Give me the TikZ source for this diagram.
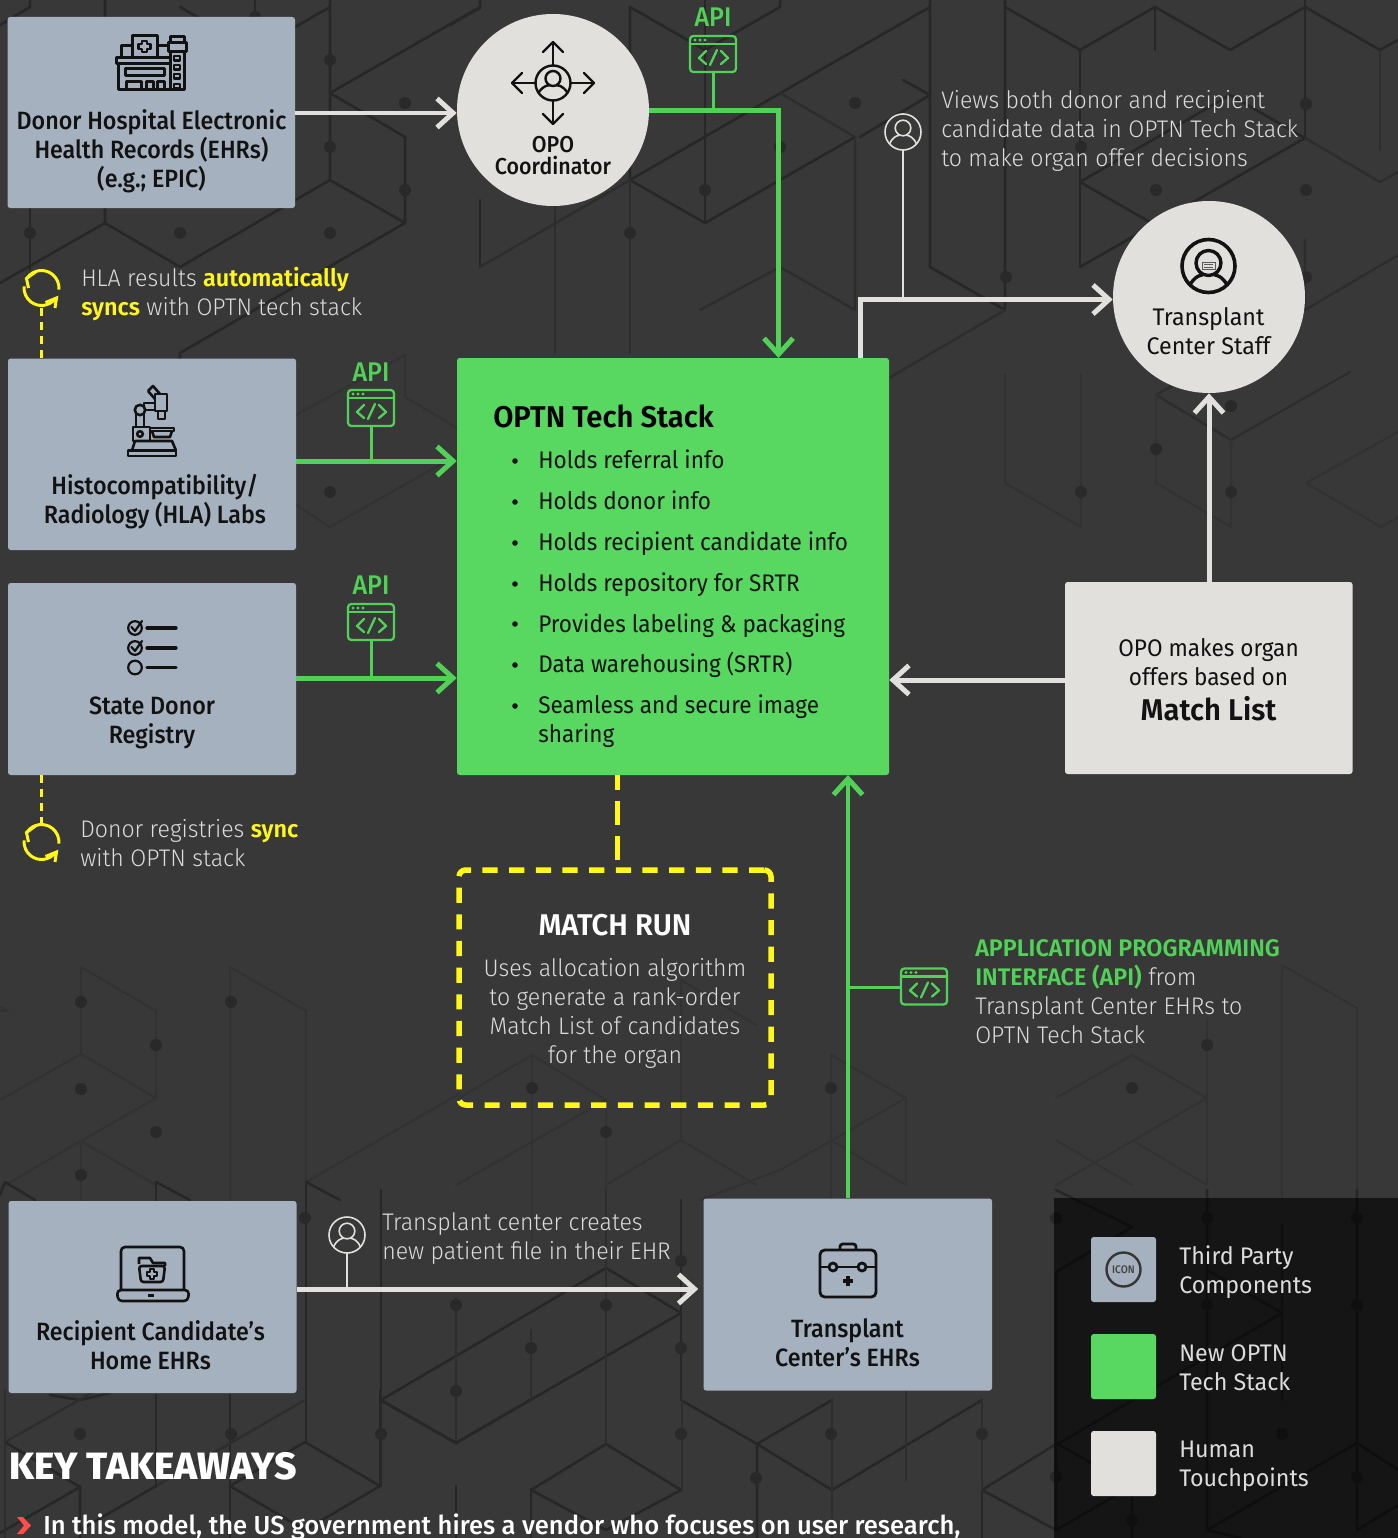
\documentclass[tikz,border=0pt]{standalone}
\usepackage{fontspec}
\usetikzlibrary{arrows.meta,calc}
\setmainfont{Fira Sans}[FakeStretch=0.94,BoldFont={Fira Sans SemiBold},BoldFeatures={FakeStretch=0.975}]
\newfontfamily\lt{Fira Sans Light}[FakeStretch=0.962,BoldFont={Fira Sans SemiBold},BoldFeatures={FakeStretch=0.975}]
\newfontfamily\md{Fira Sans Medium}[FakeStretch=0.93]
\newfontfamily\mdw{Fira Sans Medium}[FakeStretch=0.985]
\newfontfamily\lgd{Fira Sans}[FakeStretch=0.97]
\newfontfamily\hv{Fira Sans}[BoldFont={Fira Sans ExtraBold},BoldFeatures={FakeStretch=1.02}]
\definecolor{bgc}{HTML}{383838}
\definecolor{lnS}{HTML}{272727}
\definecolor{lnM}{HTML}{2D2D2D}
\definecolor{lnF}{HTML}{323232}
\definecolor{dotc}{HTML}{292929}
\definecolor{gray3}{HTML}{A5B1BE}
\definecolor{grn}{HTML}{58D860}
\definecolor{grn2}{HTML}{52D158}
\definecolor{wht}{HTML}{E1E0DC}
\definecolor{ylw}{HTML}{FFF71A}
\definecolor{ink}{HTML}{121212}
\definecolor{ltx}{HTML}{DCDCDC}
\newcommand{\Fs}[2]{\fontsize{\dimexpr #1pt*3/4\relax}{\dimexpr #2pt*3/4\relax}\selectfont}
\tikzset{
  x=.75pt,y=-.75pt,
  pxw/.style={line width=#1*.75pt},
  bgS/.style={draw=lnS,pxw=2.6,line cap=round,line join=round},
  bgM/.style={draw=lnM,pxw=2.4,line cap=round,line join=round},
  bgF/.style={draw=lnF,pxw=2.2,line cap=round,line join=round},
  thirdbox/.style={fill=gray3,rounded corners=2pt,draw=none,inner sep=0,minimum width=288*.75pt,minimum height=192*.75pt},
  humanbox/.style={fill=wht,rounded corners=2pt,draw=none,inner sep=0},
  humancirc/.style={circle,fill=wht,draw=none,inner sep=0,minimum size=192*.75pt},
  techbox/.style={fill=grn,rounded corners=2pt,draw=none,inner sep=0},
  lbl/.style={inner sep=0,align=center,text=ink},
  note/.style={inner sep=0,align=left,text=ltx,anchor=west},
  bul/.style={inner sep=0,anchor=base west,text=ink,font={\Fs{24}{29}}},
  wline/.style={draw=wht,pxw=#1,line join=miter},
  gline/.style={draw=grn2,pxw=#1,line join=miter},
  wtip/.style={-{Straight Barb[length=16*.75pt,width=29*.75pt,line width=5*.75pt]}},
  gtip/.style={-{Straight Barb[length=16*.75pt,width=29*.75pt,line width=5*.75pt]}},
  ylwdash/.style={draw=ylw,pxw=3,dash pattern=on 6pt off 4.5pt},
  ic/.style={draw=ink,pxw=3,line join=round,fill=none},
  icthin/.style={draw=ink,pxw=2.4,line join=round,line cap=round,fill=none},
  sync/.style={draw=ylw,pxw=3,line cap=butt,line join=miter},
  apic/.style={draw=grn2,pxw=2.3,line join=round,line cap=round},
  usr/.style={draw=wht,pxw=1.6,fill=none},
}
\newcommand{\apiicon}[2]{\begin{scope}[shift={(#1,#2)}]
  \draw[apic,rounded corners=2.5pt] (0,0) rectangle (46,36);
  \draw[apic] (0,8) -- (46,8);
  \foreach \q in {5,10,15} \fill[grn2] (\q,4) circle[radius=1.6];
  \draw[apic] (16,15) -- (9,22) -- (16,28);
  \draw[apic] (27,14) -- (20,29);
  \draw[apic] (31,15) -- (38,22) -- (31,28);
\end{scope}}
\newcommand{\usericon}[2]{\begin{scope}[shift={(#1,#2)}]
  \draw[usr] (0,0) circle[radius=18];
  \draw[usr] (0,-4) circle[radius=7.8];
  \draw[usr] (-13.5,12) .. controls (-10,4) and (-5,3.5) .. (-4,3.5);
  \draw[usr] (13.5,12) .. controls (10,4) and (5,3.5) .. (4,3.5);
\end{scope}}
\newcommand{\syncicon}[2]{\begin{scope}[shift={(#1,#2)}]
  \draw[sync] (-14,-10.5) arc[start angle=217,end angle=365,radius=17.5];
  \draw[sync] (14,10.5) arc[start angle=37,end angle=185,radius=17.5];
  \draw[sync] (-6,-16) -- (-15,-9.5) -- (-13,0);
  \draw[sync] (4,14.5) -- (15,10) -- (13.5,20);
\end{scope}}
\begin{document}
\begin{tikzpicture}
\useasboundingbox (0,0) rectangle (1398,1538);
\clip (0,0) rectangle (1398,1538);
\fill[bgc] (0,0) rectangle (1398,1538);
% ---------- background pattern, top
\draw[bgS] (0,25)--(30,7)--(30,0);
\draw[bgS] (105,0)--(105,223)--(180,267)--(330,180)--(330,0);
\draw[bgS] (105,223)--(0,283);
\draw[bgS] (30,205)--(30,270);
\draw[bgS] (330,93)--(405,137)--(405,223)--(330,180);
\draw[bgS] (405,223)--(180,353)--(180,400);
\draw[bgS] (330,93)--(480,7);
\draw[bgS] (180,7)--(255,50)--(330,7);
\draw[bgS] (255,0)--(255,50);
\draw[bgS] (330,0)--(330,7);
\draw[bgS] (630,180)--(630,7)--(705,50)--(780,7)--(780,0);
\draw[bgS] (630,180)--(855,50);
\draw[bgS] (630,180)--(705,223)--(855,137);
\draw[bgS] (705,0)--(705,223);
\draw[bgS] (480,0)--(480,8)--(450,25);
\draw[bgS] (480,200)--(480,267);
\draw[bgM] (480,267)--(630,180);
\draw[bgM] (780,93)--(855,137)--(855,310);
\draw[bgS] (930,0)--(930,267)--(1005,310)--(1005,0);
\draw[bgS] (903,80)--(930,95)--(860,137);
\draw[bgS] (1005,7)--(1080,50)--(1155,7)--(1230,50)--(1305,7)--(1380,50)--(1398,40);
\draw[bgS] (855,50)--(930,7);
\draw[bgS] (1080,50)--(1080,267);
\draw[bgS] (1155,50)--(1155,7);
\draw[bgS] (1080,182)--(1155,225);
\draw[bgS] (1080,182)--(1230,95)--(1305,138)--(1080,267);
\draw[bgS] (1305,0)--(1305,138);
\draw[bgM] (1305,138)--(1380,182)--(1398,172);
\draw[bgM] (1305,240)--(1305,310)--(1398,255);
\draw[bgM] (1380,50)--(1380,150);
\draw[bgM] (555,205)--(555,353);
\draw[bgM] (630,180)--(630,353);
\draw[bgM] (700,310)--(780,267)--(855,310);
\draw[bgM] (1005,310)--(860,395);
\draw[bgF] (296,505)--(330,527)--(457,455);
\draw[bgF] (405,355)--(405,397)--(457,428);
\draw[bgF] (296,415)--(405,355);
\draw[bgM] (1156,395)--(1231,440)--(1350,372);
\draw[bgM] (1156,395)--(1195,373);
\draw[bgF] (1156,395)--(1156,483)--(1231,527)--(1231,440);
\draw[bgF] (1005,375)--(1005,483)--(1081,527)--(1081,375);
\draw[bgF] (1398,432)--(1306,483)--(1381,527)--(1398,517);
% ---------- background pattern, lower
\draw[bgF] (81,967)--(156,1011)--(156,1098);
\draw[bgF] (81,967)--(81,1054)--(156,1098)--(81,1141)--(0,1188);
\draw[bgF] (81,1054)--(0,1100);
\draw[bgF] (81,1141)--(81,1200);
\draw[bgF] (81,1141)--(156,1185);
\draw[bgF] (230,967)--(306,1011)--(306,1182);
\draw[bgF] (230,967)--(230,1200);
\draw[bgF] (306,1182)--(459,1094);
\draw[bgF] (0,1011)--(8,1011)--(0,1007);
\draw[bgS] (0,1195)--(5,1182)--(35,1200);
\draw[bgS] (156,1182)--(156,1200);
\draw[bgS] (156,1182)--(190,1200);
\draw[bgS] (306,1182)--(306,1442);
\draw[bgS] (306,1182)--(340,1200);
\draw[bgF] (532,1055)--(606,1100)--(456,1185);
\draw[bgF] (532,1055)--(459,1098);
\draw[bgF] (532,1055)--(532,1240);
\draw[bgF] (606,1100)--(606,1200);
\draw[bgF] (831,1055)--(906,1098)--(906,1185);
\draw[bgF] (831,1055)--(831,1200);
\draw[bgF] (906,1098)--(780,1170)--(700,1200);
\draw[bgF] (831,1140)--(906,1185);
\draw[bgF] (681,980)--(681,1140)--(756,1185);
\draw[bgF] (681,980)--(756,1025);
\draw[bgF] (681,1140)--(606,1185);
\draw[bgF] (1132,1055)--(1207,1098)--(1056,1185);
\draw[bgF] (1132,1055)--(1056,1098);
\draw[bgF] (1056,1140)--(1132,1185);
\draw[bgF] (1132,1140)--(1207,1185);
\draw[bgF] (1207,1020)--(1207,1185);
\draw[bgF] (1282,965)--(1357,1008)--(1357,1200);
\draw[bgF] (1282,965)--(1282,1200);
\draw[bgS] (606,1268)--(381,1400);
\draw[bgS] (606,1268)--(681,1313)--(456,1443)--(381,1400);
\draw[bgS] (381,1190)--(381,1486);
\draw[bgM] (456,1298)--(456,1443);
\draw[bgM] (606,1190)--(606,1443);
\draw[bgM] (531,1330)--(531,1400);
\draw[bgS] (681,1200)--(681,1400);
\draw[bgS] (606,1444)--(531,1490)--(606,1530)--(681,1490)--(606,1444);
\draw[bgS] (531,1490)--(531,1538);
\draw[bgS] (681,1400)--(757,1444)--(832,1490)--(982,1400);
\draw[bgS] (832,1400)--(757,1444)--(757,1538);
\draw[bgM] (682,1400)--(682,1490);
\draw[bgM] (832,1400)--(832,1538);
\draw[bgM] (906,1380)--(906,1480);
\draw[bgS] (982,1490)--(1056,1444);
\draw[bgS] (982,1490)--(1056,1530);
\draw[bgS] (982,1490)--(982,1538);
\draw[bgM] (982,1400)--(982,1490);
\draw[bgS] (156,1395)--(156,1486);
\draw[bgS] (230,1395)--(230,1486);
\draw[bgS] (50,1395)--(80,1400)--(110,1393);
\draw[bgS] (5,1442)--(80,1487)--(80,1538);
\draw[bgS] (80,1487)--(0,1533);
\draw[bgM] (5,1442)--(155,1357);
\draw[bgM] (5,1390)--(5,1538);
\draw[bgS] (305,1442)--(380,1486)--(305,1530)--(230,1486)--(305,1442);
\draw[bgS] (230,1486)--(230,1538);
\draw[bgS] (380,1390)--(380,1486);
\draw[bgS] (380,1400)--(456,1443);
\draw[bgS] (456,1443)--(530,1400);
\draw[bgM] (156,1486)--(305,1400);
\draw[bgS] (156,1486)--(80,1530);
\draw[bgS] (456,1486)--(456,1538);
\draw[bgS] (1132,1227)--(1056,1190);
\draw[bgS] (1132,1227)--(1056,1272)--(1056,1530);
\draw[bgS] (1207,1190)--(1207,1530)--(1357,1443)--(1398,1470);
\draw[bgS] (1207,1270)--(1282,1313)--(1056,1445);
\draw[bgS] (1282,1225)--(1282,1400);
\draw[bgS] (1357,1190)--(1357,1530)--(1398,1505);
\draw[bgS] (1056,1443)--(1132,1486)--(1132,1538);
\draw[bgS] (1056,1530)--(1132,1486);
\draw[bgS] (1207,1530)--(1240,1538);
% dots
\foreach \a/\b in {30/233,180/233,330/233,330/147,405/190,405/103,330/60,255/17,705/190,780/147,630/233,855/103,1006/277,1081/147,1156/190,1306/190,1306/104,1306/277,1231/406,1156/449,1081/492,1231/492,330/492,81/1002,81/1089,156/1045,156/1132,231/1002,81/1175,532/1088,606/1132,831/1088,1132/1088,1207/1045,305/1218,681/1261,456/1305,606/1305,531/1348,681/1348,456/1391,80/1434,381/1434,681/1434,831/1434,982/1434,756/1478,231/1434,1056/1218,1207/1218,1357/1218,1207/1305,1357/1305,1282/1434,1056/1477,1357/1477,1132/1520}
  \fill[dotc] (\a,\b) circle[radius=6];
% ---------- legend panel
\fill[black,opacity=.62] (1054,1198) rectangle (1398,1538);
% ---------- nodes
\node[thirdbox,minimum width=287.5*.75pt,minimum height=191*.75pt] (hosp) at (151.25,112.5) {};
\node[thirdbox,minimum height=191.5*.75pt] (hla) at (152,454.25) {};
\node[thirdbox] (state) at (152,679) {};
\node[thirdbox] (rec) at (152.5,1297) {};
\node[thirdbox,minimum width=288.5*.75pt] (tcehr) at (847.75,1294.5) {};
\node[humanbox,minimum width=287.5*.75pt,minimum height=192*.75pt] (mlist) at (1208.75,678) {};
\node[humancirc] (opo) at (553,110) {};
\node[humancirc] (staff) at (1209,297) {};
\node[techbox,minimum width=432*.75pt,minimum height=417*.75pt] (tech) at (673,566.5) {};
% labels
\node[lbl,font={\md\Fs{25}{29}}] (t1) at (151.5,151) {Donor Hospital Electronic\\Health Records (EHRs)\\(e.g.; EPIC)};
\node[lbl,font={\md\Fs{25}{29}}] (t2) at (155,502) {Histocompatibility/\\Radiology (HLA) Labs};
\node[lbl,font={\md\Fs{25}{29}}] (t3) at (152,723) {State Donor\\Registry};
\node[lbl,font={\md\Fs{25}{29}}] (t4) at (150.5,1345.5) {Recipient Candidate’s\\Home EHRs};
\node[lbl,font={\md\Fs{25}{29}}] (t5) at (847.5,1342.5) {Transplant\\Center’s EHRs};
\node[lbl,font={\md\Fs{23}{22}}] (t6) at (553,156) {OPO\\Coordinator};
\node[lbl,font={\lgd\Fs{24}{29}}] (t7) at (1208.5,331) {Transplant\\Center Staff};
\node[lbl,font={\Fs{24}{29}}] (t8) at (1208.5,662) {OPO makes organ\\offers based on};
\node[lbl,font={\bfseries\Fs{30}{32}}] (t9) at (1208.5,709) {Match List};
\node[note,font={\lt\Fs{24}{29}}] (n1) at (941,131) {Views both donor and recipient\\candidate data in OPTN Tech Stack\\to make organ offer decisions};
\node[note,font={\lt\Fs{24}{29}}] (n2) at (81,294.5) {HLA results {\color{ylw}\bfseries automatically}\\{\color{ylw}\bfseries syncs} with OPTN tech stack};
\node[note,font={\lt\Fs{24}{29}}] (n3) at (80,843.5) {Donor registries {\color{ylw}\bfseries sync}\\with OPTN stack};
\node[note,font={\lt\Fs{24}{29}}] (n4) at (382,1238.5) {Transplant center creates\\new patient file in their EHR};
\node[note,font={\lt\Fs{24}{29}}] (n5) at (975,992) {{\color{grn2}\bfseries APPLICATION PROGRAMMING}\\{\color{grn2}\bfseries INTERFACE (API)} from\\Transplant Center EHRs to\\OPTN Tech Stack};
\node[inner sep=0,text=grn2,font={\md\Fs{27}{29}}] (api1) at (713,17) {API};
\node[inner sep=0,text=grn2,font={\md\Fs{27}{29}}] (api2) at (371,372) {API};
\node[inner sep=0,text=grn2,font={\md\Fs{27}{29}}] (api3) at (371,585) {API};
\node[inner sep=0,text=white,font={\bfseries\Fs{30}{32}}] (mr) at (615,925) {MATCH RUN};
\node[inner sep=0,align=center,text=ltx,font={\lt\Fs{24}{29}}] (mrt) at (615,1013) {Uses allocation algorithm\\to generate a rank-order\\Match List of candidates\\for the organ};
\node[inner sep=0,anchor=base west,text=black,font={\bfseries\Fs{30}{32}}] (tt) at (493,427) {OPTN Tech Stack};
\node[bul] (b1) at (538,468) {Holds referral info};
\node[bul] (b2) at (538,509) {Holds donor info};
\node[bul] (b3) at (538,550) {Holds recipient candidate info};
\node[bul] (b4) at (538,591) {Holds repository for SRTR};
\node[bul] (b5) at (538,632) {Provides labeling \& packaging};
\node[bul] (b6) at (538,672) {Data warehousing (SRTR)};
\node[bul,align=left,anchor=north west] (b7) at (538,695) {Seamless and secure image\\sharing};
\foreach \q in {461,502,543,584,624,665,706} \fill[ink] (515,\q) circle[radius=2.8];
\node[inner sep=0,anchor=base west,text=white,font={\hv\bfseries\Fs{38}{40}}] (kt) at (9,1479) {KEY TAKEAWAYS};
\node[inner sep=0,anchor=base west,text=white,font={\mdw\Fs{26}{29}}] (kb) at (43,1534) {In this model, the US government hires a vendor who focuses on user research,};
\fill[red!70!white] (17,1517)--(23,1517)--(31,1525.5)--(23,1534)--(17,1534)--(24,1525.5)--cycle;
% legend
\node[thirdbox,minimum width=65*.75pt,minimum height=65*.75pt] (lg1) at (1123.5,1269.5) {};
\node[techbox,minimum width=65*.75pt,minimum height=65*.75pt] (lg2) at (1123.5,1366.5) {};
\node[humanbox,minimum width=65*.75pt,minimum height=65*.75pt] (lg3) at (1123.5,1463.5) {};
\node[inner sep=0,text=ink!80,font={\md\Fs{11}{12}}] (icn) at (1123.5,1269.5) {ICON};
\draw[draw=ink!85,pxw=2.4] (icn) circle[radius=17];
\node[note,font={\lgd\Fs{24}{29}}] (l1) at (1179,1272.5) {Third Party\\Components};
\node[note,font={\lgd\Fs{24}{29}}] (l2) at (1179,1368) {New OPTN\\Tech Stack};
\node[note,font={\lgd\Fs{24}{29}}] (l3) at (1179,1466) {Human\\Touchpoints};
% ---------- connectors
\coordinate (cHla) at (371,461);
\coordinate (cState) at (371,678);
\coordinate (cRec) at (347,1289);
\coordinate (cTop) at (713,110);
\coordinate (cIn) at (778.5,358);
\coordinate (cOut) at (860.5,358);
\coordinate (cStaffTurn) at (903,299.5);
\coordinate (cMl) at (1100,680);
\coordinate (cUp) at (848,775);
\coordinate (cUpApi) at (848,987);
\coordinate (cMatchTop) at (617.5,775);
\coordinate (cMatchBot) at (617.5,870);
\coordinate (cHla2) at (41,358);
\coordinate (cHla3) at (41,308);
\coordinate (cSt2) at (41,775);
\coordinate (cSt3) at (41,824);
\coordinate (cU1) at (903,150);
\coordinate (cU2) at (347,1253);
\coordinate (cA1) at (713,72);
\coordinate (cA2) at (371,426);
\coordinate (cA3) at (371,640);
\coordinate (cA4) at (900,987);
\draw[wline=4.5,wtip] (hosp.east |- 0,113) -- (opo.west |- 0,113);
\draw[gline=5,gtip] (opo.east) -| (cIn);
\draw[gline=5,gtip] (hla.east |- cHla) -- (tech.west |- cHla);
\draw[gline=5,gtip] (state.east |- cState) -- (tech.west |- cState);
\draw[gline=4,gtip] (tcehr.north -| cUp) -- (cUp);
\draw[wline=5,wtip] (mlist.west |- cMl) -- (tech.east |- cMl);
\draw[wline=5,wtip] (mlist.north -| staff.south) -- (staff.south);
\draw[wline=4.5,wtip] (cOut) |- (staff.west |- cStaffTurn);
\draw[wline=5,wtip,shorten >=3.75pt] (rec.east |- cRec) -- (tcehr.west |- cRec);
\draw[gline=3] (cA1) -- (cTop);
\draw[gline=3] (cA2) -- (cHla);
\draw[gline=3] (cA3) -- (cState);
\draw[gline=3] (cUpApi) -- (cA4);
\draw[wline=2] (cU1) -- (cStaffTurn);
\draw[wline=2] (cU2) -- (cRec);
\draw[ylwdash] (cHla2) -- (cHla3);
\draw[ylwdash] (cSt2) -- (cSt3);
\draw[draw=ylw,pxw=5,dash pattern=on 18pt off 8.5pt,dash phase=7pt] (cMatchTop) -- (cMatchBot);
\node[draw=ylw,pxw=5.5,dash pattern=on 11.4pt off 8.6pt,rounded corners=5pt,inner sep=0,minimum width=312*.75pt,minimum height=235*.75pt] (match) at (615,987.5) {};
% ---------- small icons
\apiicon{690}{36}
\apiicon{348}{390}
\apiicon{348}{604}
\apiicon{901}{968.5}
\usericon{903}{132}
\usericon{347}{1235}
\syncicon{41.5}{288}
\syncicon{41.5}{842}
% hospital
\begin{scope}[ic]
\draw (118,64) rectangle (170,90);
\draw (116.5,57.5) rectangle (170,64);
\draw (132,36) rectangle (157,57.5);
\draw (121,46) rectangle (132,57.5);
\draw (157,46) -- (169,46);
\draw (170,52) rectangle (184,90);
\draw (168.5,43) rectangle (186,52);
\draw (170,37) rectangle (184,43);
\draw (125,68.5) rectangle (164,75.5);
\draw (126,81.5) rectangle (141,90);
\draw (146,81.5) rectangle (153,90);
\draw (157,81.5) rectangle (164,90);
\foreach \q in {56,65,74,84} \draw[pxw=2.2] (174,\q) rectangle (180,\q+4.5);
\draw[pxw=2.2] (142,41)--(147,41)--(147,44)--(150.5,44)--(150.5,49)--(147,49)--(147,52)--(142,52)--(142,49)--(138.5,49)--(138.5,44)--(142,44)--cycle;
\end{scope}
% coordinator icon
\begin{scope}[icthin,shift={(553,83)}]
\draw (0,0) circle[radius=17.5];
\draw (0,-4.5) circle[radius=7.5];
\draw (-14,9) .. controls (-9,2) and (-5,2.5) .. (-4,2.5);
\draw (14,9) .. controls (9,2) and (5,2.5) .. (4,2.5);
\draw (0,-17.5)--(0,-41); \draw (-10,-31)--(0,-41)--(10,-31);
\draw (0,17.5)--(0,41); \draw (-10,31)--(0,41)--(10,31);
\draw (-17.5,0)--(-41,0); \draw (-31,-10)--(-41,0)--(-31,10);
\draw (17.5,0)--(41,0); \draw (31,-10)--(41,0)--(31,10);
\end{scope}
% staff icon
\begin{scope}[shift={(1208.5,266)}]
\draw[ic,pxw=3.6] (0,0) circle[radius=26.5];
\draw[ic,pxw=3.4] (0,-3) circle[radius=12.5];
\draw[ic,pxw=3.4] (-18.5,18.5) .. controls (-13,10) and (-8,9) .. (-6,9);
\draw[ic,pxw=3.4] (18.5,18.5) .. controls (13,10) and (8,9) .. (6,9);
\draw[draw=ink!70,pxw=1,fill=none] (-6.5,-4) rectangle (6.5,3.5);
\draw[draw=ink!70,pxw=1] (-4.5,-1.5)--(4.5,-1.5) (-4.5,1)--(4.5,1);
\end{scope}
% microscope
\begin{scope}[ic,pxw=2.6]
\draw (128,450.5) rectangle (176,456);
\draw (132,450.5)--(135,441)--(172,441)--(176,450.5);
\draw (133,427) rectangle (150,441);
\draw (140,434) circle[radius=2.8];
\draw (150,428) rectangle (174,431);
\draw (152,431)--(154,437)--(170,437)--(172,431);
\draw (136,427)--(136,414) (144,427)--(144,414);
\draw (140,410) circle[radius=5.2];
\draw (144,406)--(144,403)--(155,403) (145,410)--(155,410);
\draw (155,394) rectangle (167,411);
\draw (158,411) rectangle (165,419);
\draw (148,391)--(153,386)--(160,394);
\draw (148,391)--(155,399);
\end{scope}
% checklist
\begin{scope}[icthin,pxw=2.2]
\draw (135,628) circle[radius=6.8]; \draw (135,648) circle[radius=6.8]; \draw (135,667.5) circle[radius=6.8];
\draw[pxw=3.2] (147,628)--(176,628); \draw[pxw=3.2] (147,648)--(176,648); \draw[pxw=3.2] (147,667.5)--(176,667.5);
\draw (131.5,627)--(135,631)--(142,621);
\draw (131.5,647)--(135,651)--(142,641);
\end{scope}
% laptop
\begin{scope}[ic,pxw=2.6]
\draw[rounded corners=3pt] (121,1290)--(121,1247)--(184,1247)--(184,1290);
\draw[rounded corners=3pt] (117,1290) -- (189,1290) -- (188,1301) -- (118,1301) -- cycle;
\draw (148,1295.5)--(154,1295.5);
\draw (139,1264)--(139,1258)--(150,1258)--(153,1263)--(165,1263)--(165,1266);
\draw[rounded corners=2pt] (139,1266)--(165,1266)--(163,1282)--(141,1282)--cycle;
\draw[pxw=2.2] (150,1269)--(154,1269)--(154,1272)--(157,1272)--(157,1276)--(154,1276)--(154,1279)--(150,1279)--(150,1276)--(147,1276)--(147,1272)--(150,1272)--cycle;
\end{scope}
% medkit
\begin{scope}[ic,pxw=2.8]
\draw[rounded corners=3.5pt] (820,1250) rectangle (876,1297);
\draw[rounded corners=2pt] (840,1250)--(840,1244)--(856,1244)--(856,1250);
\draw (820,1267)--(829,1267) (837,1267)--(858,1267) (866,1267)--(876,1267);
\draw (833,1267) circle[radius=4];
\draw (862,1267) circle[radius=4];
\fill[ink] (846,1276) rectangle (850,1286);
\fill[ink] (843,1279) rectangle (853,1283);
\end{scope}
\end{tikzpicture}
\end{document}
